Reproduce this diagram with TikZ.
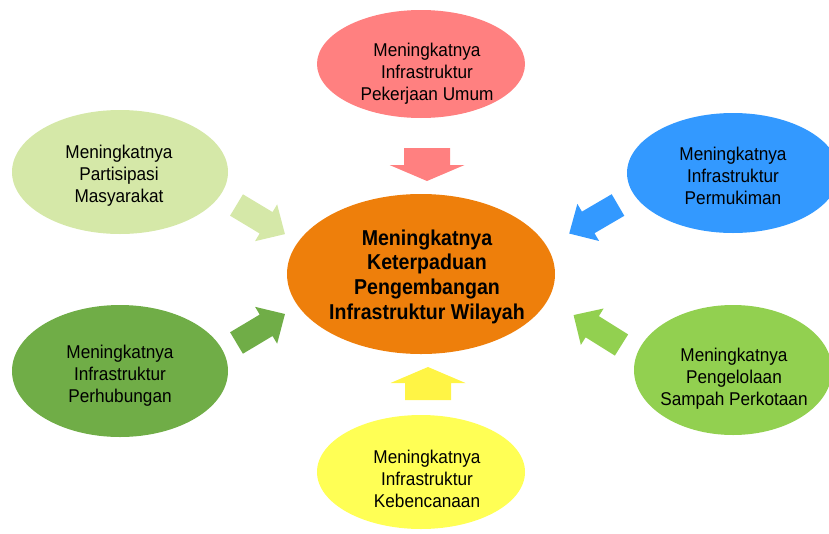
\documentclass[tikz,border=0pt]{standalone}
\usepackage{fontspec}
\setmainfont{Liberation Sans}[FakeStretch=0.93]
\newfontfamily\cfont{Liberation Sans}[FakeStretch=0.91]
\usetikzlibrary{shapes.geometric}
\definecolor{cPink}{HTML}{FF8080}
\definecolor{cLgreen}{HTML}{D5E8A8}
\definecolor{cBlue}{HTML}{3399FF}
\definecolor{cDgreen}{HTML}{70AD47}
\definecolor{cMgreen}{HTML}{92D050}
\definecolor{cYellow}{HTML}{FFFF55}
\definecolor{cYarrow}{HTML}{FFF445}
\definecolor{cOrange}{HTML}{EE7F0B}
\begin{document}
\begin{tikzpicture}[x=1pt,y=-1pt,
  ell/.style={ellipse, inner sep=0pt, draw=none},
  lbl/.style={align=center, inner sep=0pt, text=black, font=\fontsize{18.5}{22}\selectfont},
  clbl/.style={align=center, inner sep=0pt, text=black, font=\cfont\bfseries\fontsize{21.5}{24.7}\selectfont},
  diagarr/.pic={\fill[pic actions] (0,-12.5) -- (34.5,-12.5) -- (34.5,-21.5) -- (56.5,0) -- (34.5,21.5) -- (34.5,12.5) -- (0,12.5) -- cycle;},
  vertarr/.pic={\fill[pic actions] (0,-23) -- (17,-23) -- (17,-37.5) -- (33,0) -- (17,37.5) -- (17,23) -- (0,23) -- cycle;}
]
\useasboundingbox (0,0) rectangle (829,533);
\clip (0,0) rectangle (829,533);

% ellipses
\node[ell, fill=cPink, minimum width=208pt, minimum height=108pt] (pu) at (421,64) {};
\node[ell, fill=cLgreen, minimum width=216pt, minimum height=124pt] (pm) at (120,172) {};
\node[ell, fill=cBlue, minimum width=212pt, minimum height=120pt] (pr) at (733,173) {};
\node[ell, fill=cDgreen, minimum width=216pt, minimum height=132pt] (ph) at (120,371) {};
\node[ell, fill=cMgreen, minimum width=198pt, minimum height=130pt] (ps) at (733,370) {};
\node[ell, fill=cYellow, minimum width=208pt, minimum height=114pt] (kb) at (421,472) {};
\node[ell, fill=cOrange, minimum width=268pt, minimum height=160pt] (c) at (421,274) {};

% labels
\node[lbl] (put) at (427,74) {Meningkatnya\\Infrastruktur\\Pekerjaan Umum};
\node[lbl] (pmt) at (119,175.5) {Meningkatnya\\Partisipasi\\Masyarakat};
\node[lbl] (prt) at (733,175.5) {Meningkatnya\\Infrastruktur\\Permukiman};
\node[lbl] (pht) at (120,376) {Meningkatnya\\Infrastruktur\\Perhubungan};
\node[lbl] (pst) at (734,378.5) {Meningkatnya\\Pengelolaan\\Sampah Perkotaan};
\node[lbl] (kbt) at (427,478.5) {Meningkatnya\\Infrastruktur\\Kebencanaan};
\node[clbl] (ct) at (427,276.5) {Meningkatnya\\Keterpaduan\\Pengembangan\\Infrastruktur Wilayah};

% block arrows
\pic[fill=cPink, rotate=-90] (apu) at (427,148) {vertarr};
\pic[fill=cYarrow, rotate=90] (akb) at (428,400) {vertarr};
\pic[fill=cLgreen, rotate=-31] (apm) at (236.5,205) {diagarr};
\pic[fill=cBlue, rotate=210.3] (apr) at (618,205) {diagarr};
\pic[fill=cDgreen, rotate=30.9] (aph) at (236.5,343) {diagarr};
\pic[fill=cMgreen, rotate=148] (aps) at (621.5,345) {diagarr};
\end{tikzpicture}
\end{document}
